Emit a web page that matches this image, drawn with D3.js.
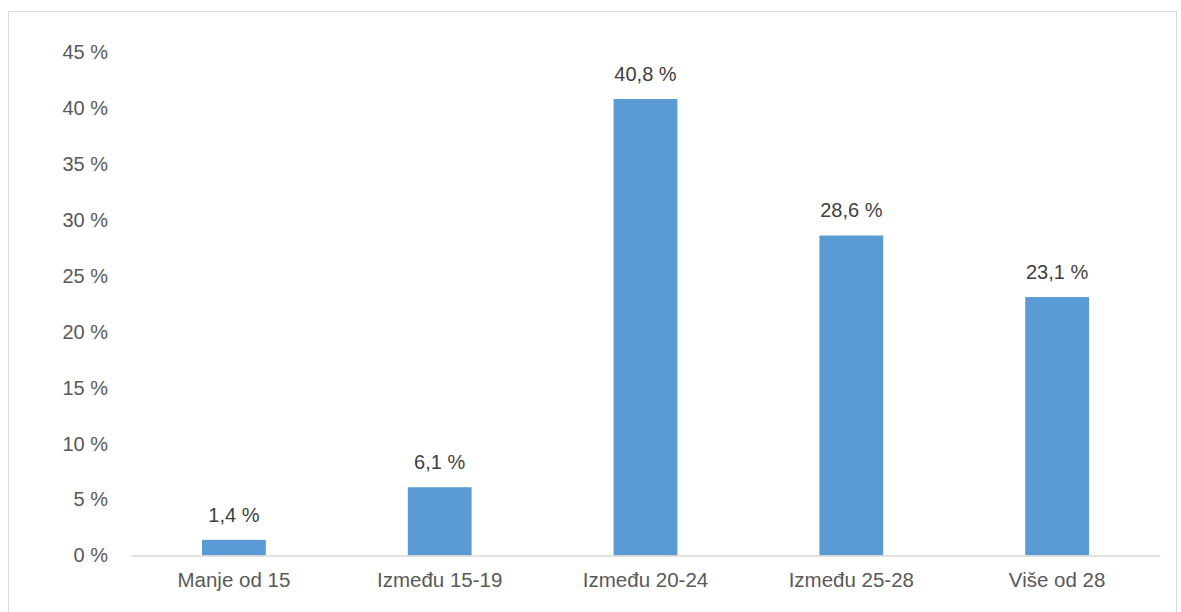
<!DOCTYPE html>
<html>
<head>
<meta charset="utf-8">
<script src="https://cdnjs.cloudflare.com/ajax/libs/d3/7.8.5/d3.min.js"></script>
<style>
  body { margin: 0; background: #fff; }
  svg { display: block; }
</style>
</head>
<body>
<div id="chart"></div>
<script>
'use strict';

// data
let categories = ['Manje od 15', 'Između 15-19', 'Između 20-24', 'Između 25-28', 'Više od 28'];
let values = [1.4, 6.1, 40.8, 28.6, 23.1];
let yTicks = [0, 5, 10, 15, 20, 25, 30, 35, 40, 45];

let w = 1181;
let h = 612;
let plotLeft = 131, plotRight = 1160, plotTop = 52, plotBottom = 555.5;
let font = '"Liberation Sans", Arial, sans-serif';
let textColor = '#595959';

let svg = d3.select('#chart').append('svg')
	.attr('width', w)
	.attr('height', h);

// chart frame (bottom edge is off the picture)
svg.append('rect')
	.attr('x', 8.5).attr('y', 11.5)
	.attr('width', 1168).attr('height', 620)
	.attr('fill', 'none')
	.attr('stroke', '#d9d9d9')
	.attr('stroke-width', 1);

let x = d3.scaleBand()
	.domain(categories)
	.range([plotLeft, plotRight])
	.paddingInner(0.69)
	.paddingOuter(0.345);

let y = d3.scaleLinear()
	.domain([0, 45])
	.range([plotBottom, plotTop]);

let fmt = d => d.toFixed(1).replace('.', ',') + ' %';

// y axis labels only
let yAxis = d3.axisLeft(y)
	.tickValues(yTicks)
	.tickFormat(d => d + ' %')
	.tickSize(0)
	.tickPadding(0);

let gy = svg.append('g')
	.attr('transform', 'translate(108,0)')
	.call(yAxis);
gy.select('.domain').remove();
gy.selectAll('text')
	.attr('font-family', font)
	.attr('font-size', '20px')
	.attr('fill', textColor);

// bars
svg.selectAll('rect.bar')
	.data(values)
	.enter()
	.append('rect')
	.attr('class', 'bar')
	.attr('x', (d, i) => x(categories[i]))
	.attr('y', d => y(d))
	.attr('width', x.bandwidth())
	.attr('height', d => y(0) - y(d))
	.attr('fill', '#5b9bd5');

// baseline / x axis
let xAxis = d3.axisBottom(x).tickSize(0).tickPadding(17);
let gx = svg.append('g')
	.attr('transform', `translate(0,${plotBottom})`)
	.call(xAxis);
gx.select('.domain')
	.attr('stroke', '#d9d9d9')
	.attr('stroke-width', 1.5);
gx.selectAll('text')
	.attr('font-family', font)
	.attr('font-size', '20.5px')
	.attr('fill', textColor);

// value labels
svg.selectAll('text.val')
	.data(values)
	.enter()
	.append('text')
	.attr('class', 'val')
	.text(d => fmt(d))
	.attr('x', (d, i) => x(categories[i]) + x.bandwidth() / 2)
	.attr('y', d => y(d) - 18)
	.attr('text-anchor', 'middle')
	.attr('font-family', font)
	.attr('font-size', '20px')
	.attr('fill', '#404040');
</script>
</body>
</html>
